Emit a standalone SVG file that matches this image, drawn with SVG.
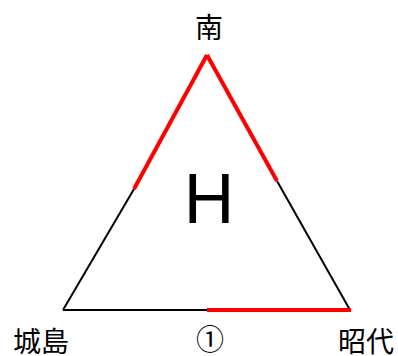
<svg xmlns="http://www.w3.org/2000/svg" width="398" height="356" viewBox="0 0 398 356">
<style>
.lbl{font-family:"Noto Sans CJK JP","Noto Sans CJK SC",sans-serif;font-size:28px;fill:#000;text-anchor:middle}
.thin{stroke:#000;stroke-width:2;fill:none}
.red{stroke:#ff0000;stroke-width:4;fill:none;stroke-linecap:butt}
</style>
<rect width="398" height="356" fill="#fff"/>
<g id="connectors">
<line class="thin" x1="134" y1="189" x2="63" y2="310"/>
<line class="thin" x1="277" y1="181" x2="350" y2="310"/>
<line class="thin" x1="63" y1="310" x2="207" y2="310"/>
<line class="red" x1="207" y1="55" x2="134" y2="189"/>
<line class="red" x1="207" y1="55" x2="277" y2="181"/>
<line class="red" x1="207" y1="310" x2="351" y2="310"/>
</g>
<g id="node-south"><text class="lbl" x="209" y="38">南</text></g>
<g id="node-jojima"><text class="lbl" x="41" y="352">城島</text></g>
<g id="node-shodai"><text class="lbl" x="366" y="352">昭代</text></g>
<g id="node-one"><text class="lbl" x="210" y="350">①</text></g>
<g id="node-H"><text x="209" y="223" style="font-family:'Liberation Sans',Arial,sans-serif;font-size:70px;text-anchor:middle;fill:#000">H</text></g>
</svg>
